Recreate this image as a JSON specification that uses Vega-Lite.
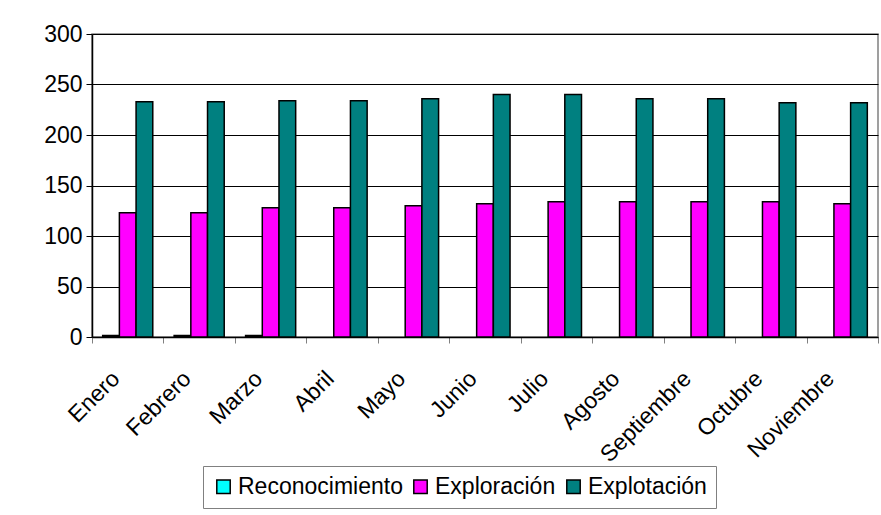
{
  "$schema": "https://vega.github.io/schema/vega-lite/v6.json",
  "autosize": "none",
  "width": 786,
  "height": 303,
  "padding": {"left": 92, "top": 34, "right": 3, "bottom": 178},
  "background": "white",
  "data": {
    "values": [
      {"mes": "Enero", "serie": "Reconocimiento", "valor": 1.5},
      {"mes": "Enero", "serie": "Exploración", "valor": 123},
      {"mes": "Enero", "serie": "Explotación", "valor": 233},
      {"mes": "Febrero", "serie": "Reconocimiento", "valor": 1.5},
      {"mes": "Febrero", "serie": "Exploración", "valor": 123},
      {"mes": "Febrero", "serie": "Explotación", "valor": 233},
      {"mes": "Marzo", "serie": "Reconocimiento", "valor": 1.5},
      {"mes": "Marzo", "serie": "Exploración", "valor": 128},
      {"mes": "Marzo", "serie": "Explotación", "valor": 234},
      {"mes": "Abril", "serie": "Reconocimiento", "valor": 0},
      {"mes": "Abril", "serie": "Exploración", "valor": 128},
      {"mes": "Abril", "serie": "Explotación", "valor": 234},
      {"mes": "Mayo", "serie": "Reconocimiento", "valor": 0},
      {"mes": "Mayo", "serie": "Exploración", "valor": 130},
      {"mes": "Mayo", "serie": "Explotación", "valor": 236},
      {"mes": "Junio", "serie": "Reconocimiento", "valor": 0},
      {"mes": "Junio", "serie": "Exploración", "valor": 132},
      {"mes": "Junio", "serie": "Explotación", "valor": 240},
      {"mes": "Julio", "serie": "Reconocimiento", "valor": 0},
      {"mes": "Julio", "serie": "Exploración", "valor": 134},
      {"mes": "Julio", "serie": "Explotación", "valor": 240},
      {"mes": "Agosto", "serie": "Reconocimiento", "valor": 0},
      {"mes": "Agosto", "serie": "Exploración", "valor": 134},
      {"mes": "Agosto", "serie": "Explotación", "valor": 236},
      {"mes": "Septiembre", "serie": "Reconocimiento", "valor": 0},
      {"mes": "Septiembre", "serie": "Exploración", "valor": 134},
      {"mes": "Septiembre", "serie": "Explotación", "valor": 236},
      {"mes": "Octubre", "serie": "Reconocimiento", "valor": 0},
      {"mes": "Octubre", "serie": "Exploración", "valor": 134},
      {"mes": "Octubre", "serie": "Explotación", "valor": 232},
      {"mes": "Noviembre", "serie": "Reconocimiento", "valor": 0},
      {"mes": "Noviembre", "serie": "Exploración", "valor": 132},
      {"mes": "Noviembre", "serie": "Explotación", "valor": 232}
    ]
  },
  "transform": [{"filter": "datum.valor > 0"}],
  "mark": {"type": "bar", "stroke": "black", "strokeWidth": 1.5},
  "encoding": {
    "x": {
      "field": "mes",
      "type": "nominal",
      "sort": ["Enero", "Febrero", "Marzo", "Abril", "Mayo", "Junio", "Julio", "Agosto", "Septiembre", "Octubre", "Noviembre"],
      "scale": {"paddingInner": 0, "paddingOuter": 0},
      "axis": {
        "title": null,
        "labelAngle": -45,
        "labelFontSize": 23,
        "labelPadding": 24,
        "labelOffset": -20,
        "tickBand": "extent",
        "tickColor": "#808080",
        "tickSize": 6,
        "domainColor": "black",
        "labelColor": "black"
      }
    },
    "xOffset": {
      "field": "serie",
      "type": "nominal",
      "sort": ["Reconocimiento", "Exploración", "Explotación"],
      "scale": {"domain": ["Reconocimiento", "Exploración", "Explotación"], "paddingInner": 0, "paddingOuter": 0.64}
    },
    "y": {
      "field": "valor",
      "type": "quantitative",
      "scale": {"domain": [0, 300]},
      "axis": {
        "title": null,
        "values": [0, 50, 100, 150, 200, 250, 300],
        "labelFontSize": 23,
        "labelPadding": 4,
        "tickSize": 6,
        "tickColor": "black",
        "domainColor": "black",
        "grid": true,
        "gridColor": "black",
        "gridOpacity": 1,
        "labelColor": "black"
      }
    },
    "color": {
      "field": "serie",
      "type": "nominal",
      "sort": ["Reconocimiento", "Exploración", "Explotación"],
      "scale": {
        "domain": ["Reconocimiento", "Exploración", "Explotación"],
        "range": ["#00FFFF", "#FF00FF", "#008080"]
      },
      "legend": {
        "title": null,
        "orient": "none",
        "legendX": 111,
        "legendY": 432,
        "direction": "horizontal",
        "strokeColor": "#808080",
        "padding": 9,
        "symbolType": "square",
        "symbolSize": 180,
        "symbolStrokeColor": "black",
        "symbolStrokeWidth": 1.5,
        "symbolOpacity": 1,
        "labelFontSize": 23,
        "labelLimit": 0,
        "labelColor": "black",
        "columnPadding": 6,
        "labelOffset": 3
      }
    }
  },
  "config": {
    "font": "Liberation Sans",
    "view": {"stroke": "#808080", "strokeWidth": 1.5},
    "axis": {"domainWidth": 1.5, "gridWidth": 1}
  }
}
